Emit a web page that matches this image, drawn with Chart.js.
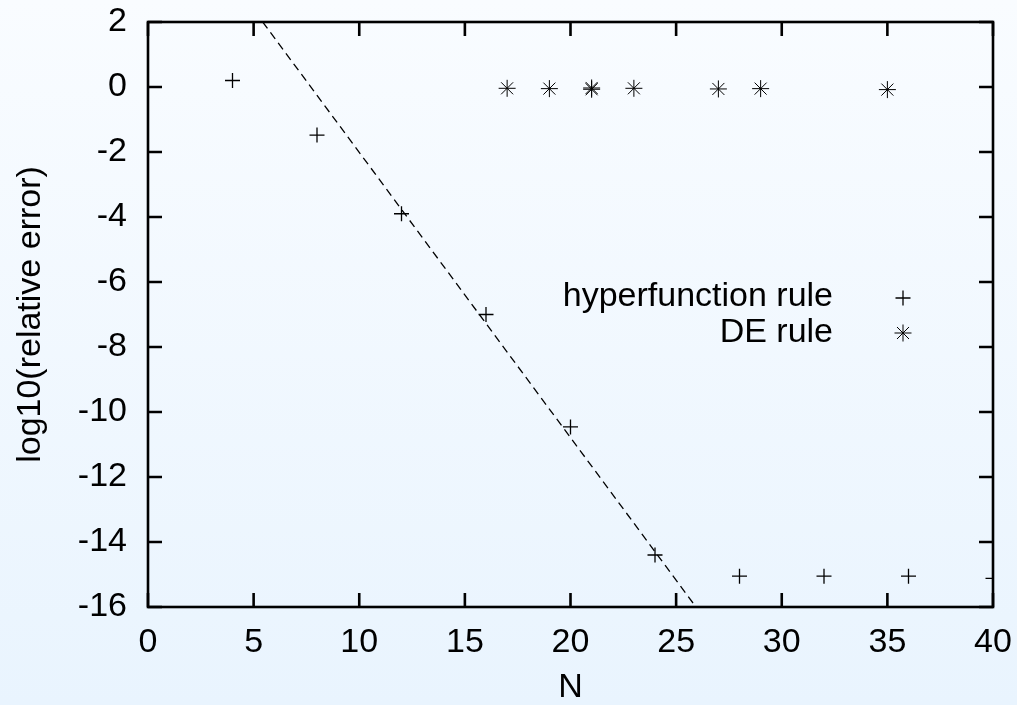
<!DOCTYPE html>
<html>
<head>
<meta charset="utf-8">
<script src="https://cdn.jsdelivr.net/npm/chart.js@4.4.1/dist/chart.umd.min.js"></script>
<style>
  html, body { margin: 0; padding: 0; }
  body {
    width: 1017px; height: 705px; overflow: hidden;
    background: linear-gradient(to bottom, #f9fcff 0%, #e9f4fe 100%);
  }
  #wrap { position: relative; width: 1017px; height: 705px; }
</style>
</head>
<body>
<div id="wrap"><canvas id="grafico"></canvas></div>
<script>
// valores
const hyperN = [4, 8, 12, 16, 20, 24, 28, 32, 36, 40];
const hyperErr = [0.2, -1.48, -3.9, -7.0, -10.46, -14.4, -15.05, -15.05, -15.05, -15.12];

const deN = [17, 19, 21, 21, 23, 27, 29, 35];
const deErr = [-0.04, -0.05, -0.03, -0.07, -0.04, -0.06, -0.05, -0.08];

const fitN = [5.43, 25.94];
const fitErr = [2, -16];

const xTicks = [0, 5, 10, 15, 20, 25, 30, 35, 40];
const yTicks = [2, 0, -2, -4, -6, -8, -10, -12, -14, -16];

const legendLabels = ['hyperfunction rule', 'DE rule'];

const FONT = '"Liberation Sans", Arial, Helvetica, sans-serif';
const FSIZE = 34;

const pts = (xs, ys) => xs.map((x, i) => ({ x: x, y: ys[i] }));

// moldura e marcas para dentro, nos quatro lados
const framePlugin = {
  id: 'frame',
  afterDatasetsDraw(chart) {
    const { ctx, chartArea: a, scales } = chart;
    const len = 14;
    ctx.save();
    ctx.strokeStyle = '#000';
    ctx.lineWidth = 2.6;
    ctx.beginPath();
    xTicks.forEach(v => {
      const px = scales.x.getPixelForValue(v);
      ctx.moveTo(px, a.bottom); ctx.lineTo(px, a.bottom - len);
      ctx.moveTo(px, a.top); ctx.lineTo(px, a.top + len);
    });
    yTicks.forEach(v => {
      const py = scales.y.getPixelForValue(v);
      ctx.moveTo(a.left, py); ctx.lineTo(a.left + len, py);
      ctx.moveTo(a.right, py); ctx.lineTo(a.right - len, py);
    });
    ctx.stroke();
    ctx.strokeRect(a.left, a.top, a.right - a.left, a.bottom - a.top);
    ctx.restore();
  },
  afterDraw(chart) {
    const { ctx } = chart;
    const styles = ['cross', 'star'];
    const radii = [7.5, 8.5];
    const widths = [1.3, 1];
    ctx.save();
    ctx.fillStyle = '#000';
    ctx.font = FSIZE + 'px ' + FONT;
    ctx.textAlign = 'right';
    ctx.textBaseline = 'alphabetic';
    legendLabels.forEach((t, i) => {
      const base = 306 + i * 36;
      ctx.fillText(t, 833, base);
      ctx.strokeStyle = '#000';
      ctx.lineWidth = widths[i];
      Chart.helpers.drawPoint(ctx, { pointStyle: styles[i], radius: radii[i], borderWidth: widths[i], rotation: 0 }, 903, 298 + i * 35);
    });
    ctx.restore();
  }
};

const ctxGrafico = document.getElementById('grafico').getContext('2d');
const grafico = new Chart(ctxGrafico, {
  type: 'scatter',
  data: {
    datasets: [
      {
        label: legendLabels[0],
        data: pts(hyperN, hyperErr),
        pointStyle: 'cross',
        pointRadius: 7.5,
        pointBorderWidth: 1.3,
        borderColor: '#000',
        backgroundColor: '#000'
      },
      {
        label: legendLabels[1],
        data: pts(deN, deErr),
        pointStyle: 'star',
        pointRadius: 8.5,
        pointBorderWidth: 1,
        borderColor: '#000',
        backgroundColor: '#000'
      },
      {
        type: 'line',
        label: 'fit',
        data: pts(fitN, fitErr),
        showLine: true,
        pointRadius: 0,
        borderColor: '#000',
        borderWidth: 1.3,
        borderDash: [8, 5],
        fill: false
      }
    ]
  },
  options: {
    responsive: true,
    maintainAspectRatio: false,
    animation: false,
    events: [],
    layout: { padding: { left: 0, top: 22, right: 24, bottom: 0 } },
    plugins: {
      legend: { display: false },
      tooltip: { enabled: false }
    },
    scales: {
      x: {
        type: 'linear',
        min: 0,
        max: 40,
        afterFit: s => { s.height = 98; s.paddingLeft = 0; s.paddingRight = 0; },
        afterBuildTicks: s => { s.ticks = xTicks.map(v => ({ value: v })); },
        grid: { display: false, drawTicks: false },
        border: { display: false },
        ticks: { color: '#000', padding: 15, maxRotation: 0, font: { family: FONT, size: FSIZE } },
        title: {
          display: true,
          text: 'N',
          color: '#000',
          padding: 0,
          font: { family: FONT, size: FSIZE, lineHeight: 1 }
        }
      },
      y: {
        type: 'linear',
        min: -16,
        max: 2,
        afterFit: s => { s.width = 148; s.paddingTop = 0; s.paddingBottom = 0; },
        afterBuildTicks: s => { s.ticks = yTicks.map(v => ({ value: v })); },
        grid: { display: false, drawTicks: false },
        border: { display: false },
        ticks: { color: '#000', padding: 21, font: { family: FONT, size: FSIZE } },
        title: {
          display: true,
          text: 'log10(relative error)',
          color: '#000',
          padding: { top: 14, bottom: 0 },
          font: { family: FONT, size: FSIZE, lineHeight: 1 }
        }
      }
    }
  },
  plugins: [framePlugin]
});
</script>
</body>
</html>
